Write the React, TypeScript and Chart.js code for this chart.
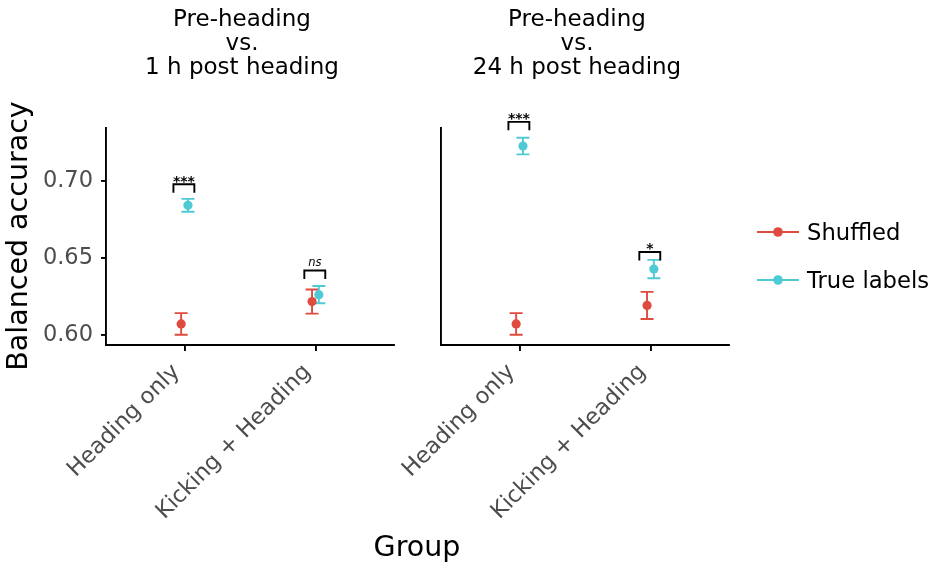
import React, { useEffect, useRef } from 'react';
import { Chart, registerables, ChartConfiguration, Plugin } from 'chart.js';
Chart.register(...registerables);

const W = 935;
const H = 567;
const FONT = '"DejaVu Sans", sans-serif';

const categories = ['Heading only', 'Kicking + Heading'];
const seriesNames = ['Shuffled', 'True labels'];
const seriesColors = ['#DF4B3E', '#4FCAD5'];
const yTicks = [0.6, 0.65, 0.7];
const yMin = 0.5933;
const yMax = 0.7342;

// Pre-heading vs. 1 h post heading
const shuffled1h = [0.607, 0.6215];
const shuffled1hErr = [0.007, 0.0078];
const true1h = [0.684, 0.626];
const true1hErr = [0.0042, 0.0056];
const bracket1h = [0.6977, 0.6417];
const sig1h = ['***', 'ns'];

// Pre-heading vs. 24 h post heading
const shuffled24h = [0.607, 0.619];
const shuffled24hErr = [0.007, 0.0088];
const true24h = [0.7225, 0.6426];
const true24hErr = [0.0054, 0.006];
const bracket24h = [0.7382, 0.6537];
const sig24h = ['***', '*'];

const DODGE = 0.026;
const PLOT_TOP = 128;
const PLOT_BOTTOM = 345;

interface PanelProps {
  left: number;
  right: number;
  showY: boolean;
  shuffled: number[];
  shuffledErr: number[];
  trueVals: number[];
  trueErr: number[];
  brackets: number[];
  sig: string[];
}

const errorBars: Plugin = {
  id: 'errorBars',
  beforeDatasetsDraw(chart) {
    const { ctx } = chart;
    const y = chart.scales.y;
    chart.data.datasets.forEach((ds: any, di) => {
      const meta = chart.getDatasetMeta(di);
      ctx.save();
      ctx.strokeStyle = ds.backgroundColor;
      ctx.lineWidth = 1.9;
      meta.data.forEach((pt: any, i: number) => {
        const v = ds.data[i].y;
        const e = ds.errors[i];
        const top = y.getPixelForValue(v + e);
        const bot = y.getPixelForValue(v - e);
        ctx.beginPath();
        ctx.moveTo(pt.x, top);
        ctx.lineTo(pt.x, bot);
        ctx.moveTo(pt.x - 6.5, top);
        ctx.lineTo(pt.x + 6.5, top);
        ctx.moveTo(pt.x - 6.5, bot);
        ctx.lineTo(pt.x + 6.5, bot);
        ctx.stroke();
      });
      ctx.restore();
    });
  },
};

const makeBracketPlugin = (brackets: number[], sig: string[]): Plugin => ({
  id: 'sigBrackets',
  afterDatasetsDraw(chart) {
    const { ctx } = chart;
    const x = chart.scales.x;
    const y = chart.scales.y;
    ctx.save();
    ctx.strokeStyle = '#000';
    ctx.fillStyle = '#000';
    ctx.lineWidth = 1.9;
    brackets.forEach((b, i) => {
      const x0 = x.getPixelForValue(i + 1 - 0.085);
      const x1 = x.getPixelForValue(i + 1 + 0.075);
      const yt = y.getPixelForValue(b);
      const yl = y.getPixelForValue(b - 0.0055);
      ctx.beginPath();
      ctx.moveTo(x0, yl);
      ctx.lineTo(x0, yt);
      ctx.lineTo(x1, yt);
      ctx.lineTo(x1, yl);
      ctx.stroke();
      ctx.textAlign = 'center';
      ctx.textBaseline = 'alphabetic';
      if (sig[i] === 'ns') {
        ctx.font = `italic 11.5px ${FONT}`;
        ctx.fillText('ns', (x0 + x1) / 2, yt - 4);
      } else {
        ctx.font = `bold 14px ${FONT}`;
        ctx.fillText(sig[i], (x0 + x1) / 2, yt + 1.5);
      }
    });
    ctx.restore();
  },
});

const Panel: React.FC<PanelProps> = (p) => {
  const canvasRef = useRef<HTMLCanvasElement>(null);
  const chartRef = useRef<Chart | null>(null);

  useEffect(() => {
    if (!canvasRef.current) return;
    const ctx = canvasRef.current.getContext('2d');
    if (!ctx) return;
    if (chartRef.current) chartRef.current.destroy();

    const mk = (vals: number[], errs: number[], k: number, off: number) => ({
      label: seriesNames[k],
      data: vals.map((v, i) => ({ x: i + 1 + off, y: v })),
      errors: errs,
      backgroundColor: seriesColors[k],
      borderColor: seriesColors[k],
      pointRadius: 4.6,
      pointBorderWidth: 0,
      showLine: false,
      clip: false as any,
    });

    const config: ChartConfiguration = {
      type: 'scatter',
      data: {
        datasets: [
          mk(p.shuffled, p.shuffledErr, 0, -DODGE),
          mk(p.trueVals, p.trueErr, 1, DODGE),
        ] as any,
      },
      options: {
        responsive: false,
        animation: false,
        layout: { padding: { left: 0, top: PLOT_TOP, right: W - p.right, bottom: 0 } },
        plugins: { legend: { display: false }, tooltip: { enabled: false } },
        scales: {
          x: {
            type: 'linear',
            min: 0.4,
            max: 2.6,
            afterBuildTicks: (s: any) => {
              s.ticks = categories.map((_, i) => ({ value: i + 1 }));
            },
            afterFit: (s: any) => {
              s.height = H - PLOT_BOTTOM;
            },
            ticks: {
              callback: (v: any) => categories[Math.round(v) - 1] ?? '',
              minRotation: 45,
              maxRotation: 45,
              autoSkip: false,
              font: { family: FONT, size: 22.5 },
              color: '#4D4D4D',
              padding: 8,
              labelOffset: -8,
            },
            grid: { display: true, drawOnChartArea: false, drawTicks: true, tickLength: 6, color: '#000', lineWidth: 1.9 },
            border: { display: true, color: '#000', width: 1.9 },
          },
          y: {
            min: yMin,
            max: yMax,
            afterBuildTicks: (s: any) => {
              s.ticks = yTicks.map((v) => ({ value: v }));
            },
            afterFit: (s: any) => {
              s.width = p.left;
            },
            ticks: {
              display: p.showY,
              callback: (v: any) => Number(v).toFixed(2),
              font: { family: FONT, size: 22.5 },
              color: '#4D4D4D',
              padding: 8,
            },
            grid: { display: p.showY, drawOnChartArea: false, drawTicks: true, tickLength: 5, color: '#000', lineWidth: 1.9 },
            border: { display: true, color: '#000', width: 1.9 },
          },
        },
      },
      plugins: [errorBars, makeBracketPlugin(p.brackets, p.sig)],
    };

    chartRef.current = new Chart(ctx, config);
    return () => {
      if (chartRef.current) {
        chartRef.current.destroy();
        chartRef.current = null;
      }
    };
  }, [p]);

  return (
    <canvas
      ref={canvasRef}
      width={W}
      height={H}
      style={{ position: 'absolute', left: 0, top: 0, width: W, height: H }}
    />
  );
};

const panel1h: PanelProps = {
  left: 106, right: 394, showY: true,
  shuffled: shuffled1h, shuffledErr: shuffled1hErr,
  trueVals: true1h, trueErr: true1hErr,
  brackets: bracket1h, sig: sig1h,
};
const panel24h: PanelProps = {
  left: 441, right: 729, showY: false,
  shuffled: shuffled24h, shuffledErr: shuffled24hErr,
  trueVals: true24h, trueErr: true24hErr,
  brackets: bracket24h, sig: sig24h,
};

const titles = [
  { cx: 242, lines: ['Pre-heading', 'vs.', '1 h post heading'] },
  { cx: 577, lines: ['Pre-heading', 'vs.', '24 h post heading'] },
];

const App: React.FC = () => (
  <div style={{ position: 'absolute', left: 0, top: 0, width: W, height: H, background: '#fff', fontFamily: FONT, overflow: 'hidden' }}>
    <Panel {...panel1h} />
    <Panel {...panel24h} />
    {titles.map((t) => (
      <div
        key={t.cx}
        style={{ position: 'absolute', left: t.cx - 150, top: 6, width: 300, textAlign: 'center', fontSize: 23, lineHeight: '24px', color: '#000' }}
      >
        {t.lines.map((l) => (
          <div key={l}>{l}</div>
        ))}
      </div>
    ))}
    <div style={{ position: 'absolute', left: 417 - 100, top: 532, width: 200, height: 30, lineHeight: '30px', textAlign: 'center', fontSize: 28.5, color: '#000' }}>
      Group
    </div>
    <div
      style={{ position: 'absolute', left: 17.5 - 160, top: 236 - 15, width: 320, height: 30, lineHeight: '30px', textAlign: 'center', fontSize: 28.5, color: '#000', transform: 'rotate(-90deg)' }}
    >
      Balanced accuracy
    </div>
    {seriesNames.map((n, k) => (
      <div key={n} style={{ position: 'absolute', left: 757, top: (k === 0 ? 231.5 : 280) - 15, height: 30, display: 'flex', alignItems: 'center' }}>
        <svg width={42} height={12} style={{ display: 'block' }}>
          <line x1={0} y1={6} x2={42} y2={6} stroke={seriesColors[k]} strokeWidth={2.2} />
          <circle cx={21} cy={6} r={4.8} fill={seriesColors[k]} />
        </svg>
        <span style={{ marginLeft: 8, fontSize: 22.7, lineHeight: '30px', color: '#000' }}>{n}</span>
      </div>
    ))}
  </div>
);

export default App;
